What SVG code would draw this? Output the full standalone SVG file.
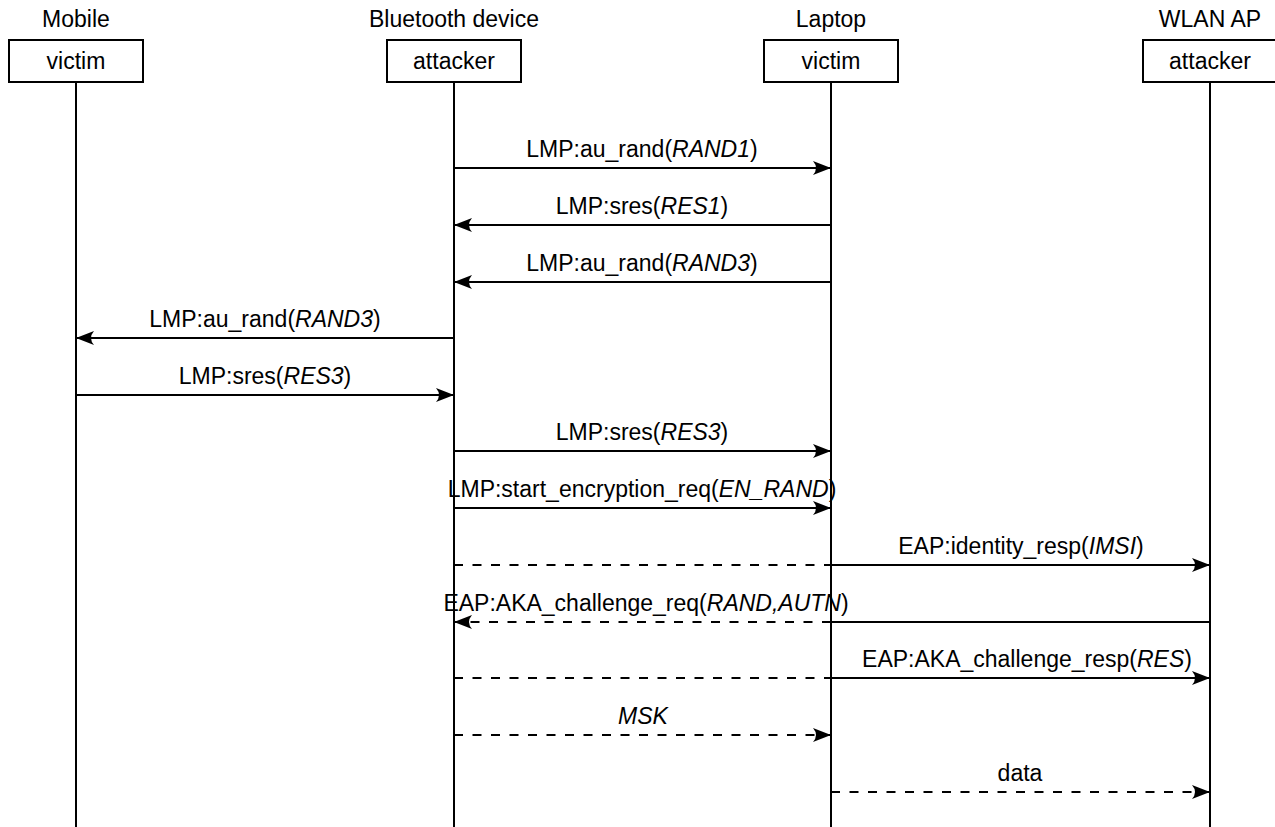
<svg xmlns="http://www.w3.org/2000/svg" width="1275" height="827" viewBox="0 0 1275 827">
  <style>
    text { font-family: "Liberation Sans", Arial, Helvetica, sans-serif; font-size: 23px; fill: #000; text-anchor: middle; }
    .it { font-style: italic; }
    .box { fill: #fff; stroke: #000; stroke-width: 2; }
    .life { stroke: #000; stroke-width: 2; fill: none; }
    .msg { stroke: #000; stroke-width: 2; fill: none; }
    .dash { stroke-dasharray: 9 9.5; }
  </style>
  <defs>
    <marker id="arrow" markerUnits="userSpaceOnUse" markerWidth="24" markerHeight="18" refX="20" refY="8" orient="auto">
      <path d="M20,8 L2,1 Q8,8 2,15 Z" fill="#000"/>
    </marker>
  </defs>

  <!-- participants: heading, box and lifeline -->
  <g id="mobile">
    <text x="76" y="27">Mobile</text>
    <line class="life" x1="76" y1="82" x2="76" y2="827"/>
    <rect class="box" x="9" y="40" width="134" height="42"/>
    <text x="76" y="69">victim</text>
  </g>
  <g id="bluetooth-device">
    <text x="454" y="27">Bluetooth device</text>
    <line class="life" x1="454" y1="82" x2="454" y2="827"/>
    <rect class="box" x="387" y="40" width="134" height="42"/>
    <text x="454" y="69">attacker</text>
  </g>
  <g id="laptop">
    <text x="831" y="27">Laptop</text>
    <line class="life" x1="831" y1="82" x2="831" y2="827"/>
    <rect class="box" x="764" y="40" width="134" height="42"/>
    <text x="831" y="69">victim</text>
  </g>
  <g id="wlan-ap">
    <text x="1210" y="27">WLAN AP</text>
    <line class="life" x1="1210" y1="82" x2="1210" y2="827"/>
    <rect class="box" x="1143" y="40" width="134" height="42"/>
    <text x="1210" y="69">attacker</text>
  </g>

  <!-- messages -->
  <g id="connectors">
    <line class="msg" x1="454" y1="168" x2="831" y2="168" marker-end="url(#arrow)"/>
    <text x="642" y="157">LMP:au_rand(<tspan class="it">RAND1</tspan>)</text>

    <line class="msg" x1="831" y1="225" x2="454" y2="225" marker-end="url(#arrow)"/>
    <text x="642" y="214">LMP:sres(<tspan class="it">RES1</tspan>)</text>

    <line class="msg" x1="831" y1="282" x2="454" y2="282" marker-end="url(#arrow)"/>
    <text x="642" y="271">LMP:au_rand(<tspan class="it">RAND3</tspan>)</text>

    <line class="msg" x1="454" y1="338" x2="76" y2="338" marker-end="url(#arrow)"/>
    <text x="265" y="327">LMP:au_rand(<tspan class="it">RAND3</tspan>)</text>

    <line class="msg" x1="76" y1="395" x2="454" y2="395" marker-end="url(#arrow)"/>
    <text x="265" y="384">LMP:sres(<tspan class="it">RES3</tspan>)</text>

    <line class="msg" x1="454" y1="451" x2="831" y2="451" marker-end="url(#arrow)"/>
    <text x="642" y="440">LMP:sres(<tspan class="it">RES3</tspan>)</text>

    <line class="msg" x1="454" y1="508" x2="831" y2="508" marker-end="url(#arrow)"/>
    <text x="642" y="497">LMP:start_encryption_req(<tspan class="it">EN_RAND</tspan>)</text>

    <line class="msg dash" x1="454" y1="565" x2="831" y2="565"/>
    <line class="msg" x1="831" y1="565" x2="1210" y2="565" marker-end="url(#arrow)"/>
    <text x="1021" y="554">EAP:identity_resp(<tspan class="it">IMSI</tspan>)</text>

    <line class="msg" x1="1210" y1="622" x2="831" y2="622"/>
    <line class="msg dash" x1="831" y1="622" x2="454" y2="622" marker-end="url(#arrow)"/>
    <text x="646" y="611">EAP:AKA_challenge_req(<tspan class="it">RAND,AUTN</tspan>)</text>

    <line class="msg dash" x1="454" y1="678" x2="831" y2="678"/>
    <line class="msg" x1="831" y1="678" x2="1210" y2="678" marker-end="url(#arrow)"/>
    <text x="1027" y="667">EAP:AKA_challenge_resp(<tspan class="it">RES</tspan>)</text>

    <line class="msg dash" x1="454" y1="735" x2="831" y2="735" marker-end="url(#arrow)"/>
    <text x="643" y="724" class="it">MSK</text>

    <line class="msg dash" x1="831" y1="792" x2="1210" y2="792" marker-end="url(#arrow)"/>
    <text x="1020" y="781">data</text>
  </g>
</svg>
